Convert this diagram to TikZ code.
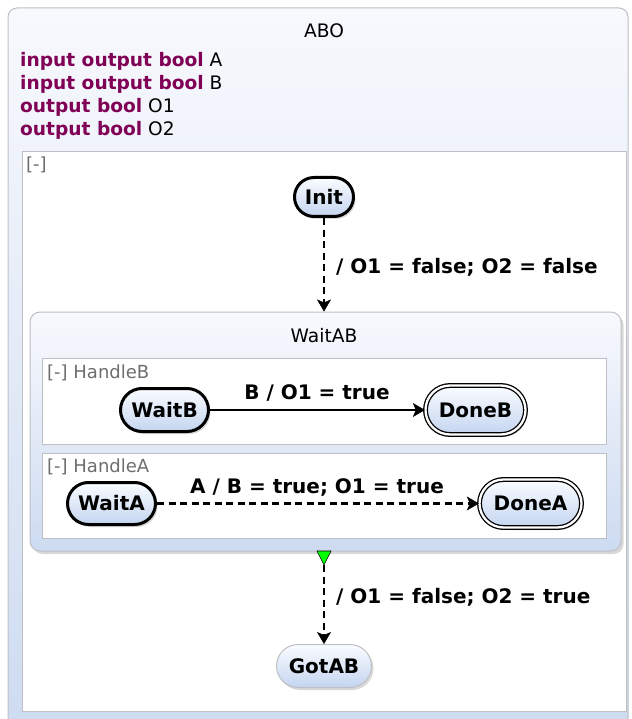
\documentclass[tikz,border=0pt]{standalone}
\usepackage{fontspec}
\setmainfont{DejaVu Sans}
\usetikzlibrary{shadows,arrows.meta,shapes.misc}
\definecolor{kw}{RGB}{127,0,85}
\definecolor{boxtop}{RGB}{248,249,253}
\definecolor{boxbot}{RGB}{205,219,241}
\definecolor{ntop}{RGB}{250,252,255}
\definecolor{nbot}{RGB}{196,213,240}
\definecolor{rim}{RGB}{190,192,198}
\definecolor{regtxt}{RGB}{110,110,110}
\tikzset{
  fs/.style={font=\fontsize{18.6}{23}\selectfont},
  fsb/.style={font=\fontsize{20}{23}\selectfont\bfseries},
  statebox/.style={rounded rectangle, fsb, inner sep=0pt, top color=ntop, bottom color=nbot,
    drop shadow={shadow xshift=2pt, shadow yshift=-2.5pt, opacity=0.3}},
  initial/.style={statebox, draw=black, line width=3pt},
  final/.style={statebox, draw=black, line width=1.3pt, double=white, double distance=2.3pt},
  plain/.style={statebox, draw=rim, line width=1pt},
  region/.style={draw=rim, fill=white, line width=1pt},
  regionlabel/.style={font=\fontsize{18}{22}\selectfont, text=regtxt, anchor=base west, inner sep=0pt},
  trans/.style={line width=2.5pt, -{Stealth[length=12pt,width=14pt,inset=3pt,line width=0.5pt]}},
  dashtrans/.style={trans, dash pattern=on 7pt off 4.5pt},
  lbl/.style={fsb, inner sep=0pt}
}
\begin{document}
\begin{tikzpicture}[x=1pt,y=-1pt]
\useasboundingbox (0,0) rectangle (631,719);
% outer state ABO
\path[draw=rim, line width=1pt, rounded corners=9pt, top color=boxtop, bottom color=boxbot]
  (8,8) rectangle (628,735);
\node[fs, anchor=base] (abo) at (324,38) {ABO};
\node[fs, anchor=base west, inner sep=0pt] (d1) at (20,67) {\textcolor{kw}{\bfseries input output bool} A};
\node[fs, anchor=base west, inner sep=0pt] (d2) at (20,90) {\textcolor{kw}{\bfseries input output bool} B};
\node[fs, anchor=base west, inner sep=0pt] (d3) at (20,113) {\textcolor{kw}{\bfseries output bool} O1};
\node[fs, anchor=base west, inner sep=0pt] (d4) at (20,136) {\textcolor{kw}{\bfseries output bool} O2};
% main region
\draw[region] (22,152) rectangle (626,711);
\node[regionlabel] (r0) at (26,171) {[-]};
% Init
\node[initial, minimum width=59pt, minimum height=39pt] (init) at (324,197) {Init};
% WaitAB superstate
\node[draw=rim, line width=1pt, rounded corners=10pt, top color=boxtop, bottom color=boxbot,
  minimum width=591pt, minimum height=239pt, inner sep=0pt,
  drop shadow={shadow xshift=2.5pt, shadow yshift=-3pt, opacity=0.3}] (waitab) at (325.5,431.5) {};
\node[fs, anchor=base] (waitabt) at (324,342) {WaitAB};
% regions
\draw[region] (42,358) rectangle (606,444);
\node[regionlabel] (rb) at (47,378) {[-] HandleB};
\draw[region] (42,453) rectangle (606,538);
\node[regionlabel] (ra) at (47,472) {[-] HandleA};
% states
\node[initial, minimum width=88pt, minimum height=43pt] (waitb) at (164.5,410) {WaitB};
\node[final, minimum width=100pt, minimum height=49pt] (doneb) at (475.5,410) {DoneB};
\node[initial, minimum width=88pt, minimum height=42pt] (waita) at (111.5,503.5) {WaitA};
\node[final, minimum width=102pt, minimum height=48pt] (donea) at (530.5,503.5) {DoneA};
\node[plain, minimum width=95pt, minimum height=43pt] (gotab) at (324,666) {GotAB};
% transitions
\draw[dashtrans] (init.south) -- (init.south |- waitab.north);
\node[lbl, anchor=west] (l1) at (336,267) {/ O1 = false; O2 = false};
\draw[trans] (waitb.east) -- (doneb.west);
\node[lbl] (l2) at (317,393) {B / O1 = true};
\draw[dashtrans] (waita.east) -- (donea.west);
\node[lbl] (l3) at (317,487) {A / B = true; O1 = true};
% termination marker
\coordinate (tri) at (324,565);
\draw[fill=green, draw=black, line width=0.6pt] (317,551) -- (331,551) -- (tri) -- cycle;
\draw[dashtrans] (tri) -- (gotab.north);
\node[lbl, anchor=west] (l4) at (336,597) {/ O1 = false; O2 = true};
\end{tikzpicture}
\end{document}
